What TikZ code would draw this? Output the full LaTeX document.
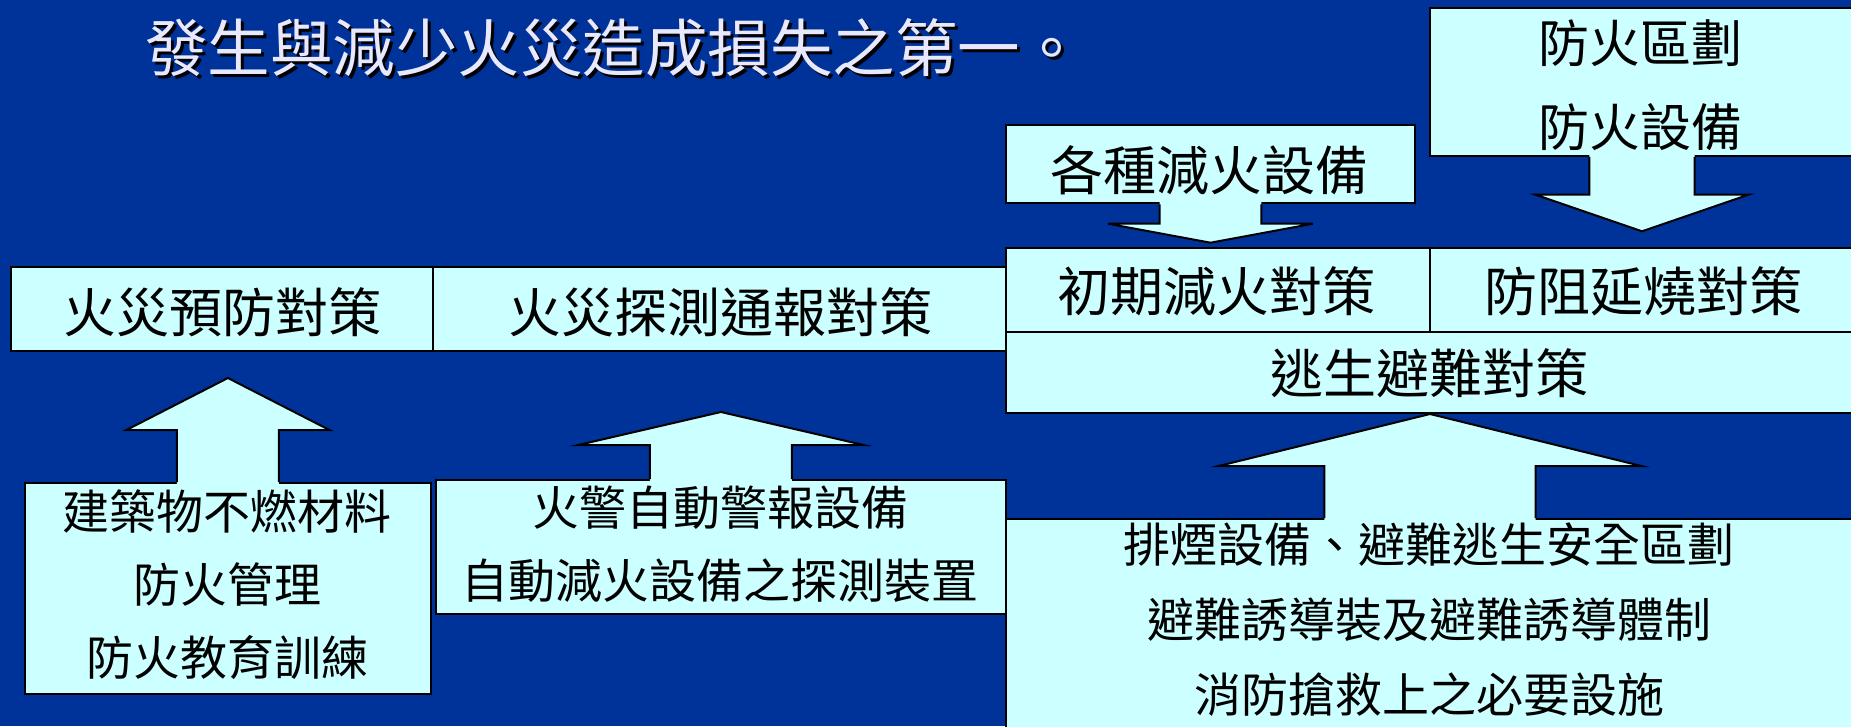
\documentclass[tikz,border=0pt]{standalone}
\usepackage{fontspec}
\newfontfamily\cjk{Noto Sans CJK TC}
\definecolor{bg}{RGB}{0,51,153}
\definecolor{boxc}{RGB}{204,255,255}
\definecolor{titc}{RGB}{232,232,255}
\begin{document}
\begin{tikzpicture}[x=1pt,y=-1pt,
  box/.style={draw=black,line width=2pt,fill=boxc,inner sep=0pt,anchor=north west},
  hd/.style={font=\cjk\fontsize{53}{60}\selectfont,inner sep=0pt,text=black},
  hdb/.style={font=\cjk\fontsize{51}{84}\selectfont,inner sep=0pt,align=center,text=black},
  bd/.style={font=\cjk\fontsize{47}{73}\selectfont,inner sep=0pt,align=center,text=black},
  ttl/.style={font=\cjk\fontsize{62.5}{70}\selectfont,inner sep=0pt},
  arrfill/.style={fill=boxc,draw=none},
  arrline/.style={draw=black,line width=2pt,line join=miter}]
\useasboundingbox (0,0) rectangle (1851,726);
\fill[bg] (0,0) rectangle (1851,726);
\clip (0,0) rectangle (1851,726);

% boxes
\node[box,minimum width=421.9pt,minimum height=84pt] (b1) at (9.7,266) {};
\node[box,minimum width=573.4pt,minimum height=84pt] (b2) at (431.6,266) {};
\node[box,minimum width=424pt,minimum height=84.3pt] (b3) at (1005,246.7) {};
\node[box,minimum width=424pt,minimum height=84.3pt] (b4) at (1429,246.7) {};
\node[box,minimum width=848pt,minimum height=80.7pt] (b5) at (1005,331) {};
\node[box,minimum width=409pt,minimum height=78.3pt] (b6) at (1005,124) {};
\node[box,minimum width=424pt,minimum height=148.3pt] (b7) at (1429,6.7) {};
\node[box,minimum width=406.2pt,minimum height=211pt] (b8) at (23.8,482) {};
\node[box,minimum width=570.2pt,minimum height=134.3pt] (b9) at (434.8,479) {};
\node[box,minimum width=848pt,minimum height=240pt] (b10) at (1005,518) {};

% block arrows (up)
\begin{scope}[shift={(b8.north)}]
  \fill[arrfill] (-51,4) -- (-51,-52) -- (-101.5,-52) -- (0,-104) -- (101.5,-52) -- (51,-52) -- (51,4) -- cycle;
  \draw[arrline] (-51,0) -- (-51,-52) -- (-101.5,-52) -- (0,-104) -- (101.5,-52) -- (51,-52) -- (51,0);
\end{scope}
\begin{scope}[shift={(b9.north)}]
  \fill[arrfill] (-71,4) -- (-71,-34) -- (-142.6,-34) -- (0,-67) -- (142.6,-34) -- (71,-34) -- (71,4) -- cycle;
  \draw[arrline] (-71,0) -- (-71,-34) -- (-142.6,-34) -- (0,-67) -- (142.6,-34) -- (71,-34) -- (71,0);
\end{scope}
\begin{scope}[shift={(b10.north)}]
  \fill[arrfill] (-105.6,4) -- (-105.6,-52) -- (-211.3,-52) -- (0,-104) -- (211.3,-52) -- (105.6,-52) -- (105.6,4) -- cycle;
  \draw[arrline] (-105.6,0) -- (-105.6,-52) -- (-211.3,-52) -- (0,-104) -- (211.3,-52) -- (105.6,-52) -- (105.6,0);
\end{scope}
% block arrows (down)
\begin{scope}[shift={(b6.south)}]
  \fill[arrfill] (-50.8,-4) -- (-50.8,19.4) -- (-102.5,19.4) -- (0,38.4) -- (102.5,19.4) -- (50.8,19.4) -- (50.8,-4) -- cycle;
  \draw[arrline] (-50.8,0) -- (-50.8,19.4) -- (-102.5,19.4) -- (0,38.4) -- (102.5,19.4) -- (50.8,19.4) -- (50.8,0);
\end{scope}
\begin{scope}[shift={(b7.south)}]
  \fill[arrfill] (-52.7,-4) -- (-52.7,37.7) -- (-106.5,37.7) -- (0,74.3) -- (106.5,37.7) -- (52.7,37.7) -- (52.7,-4) -- cycle;
  \draw[arrline] (-52.7,0) -- (-52.7,37.7) -- (-106.5,37.7) -- (0,74.3) -- (106.5,37.7) -- (52.7,37.7) -- (52.7,0);
\end{scope}

% texts
\node[hd] (t1) at (222,312) {火災預防對策};
\node[hd] (t2) at (720,312) {火災探測通報對策};
\node[hd] (t3) at (1216.5,291.7) {初期減火對策};
\node[hd] (t4) at (1643.5,291.7) {防阻延燒對策};
\node[hd] (t5) at (1429.5,373) {逃生避難對策};
\node[hd] (t6) at (1209.5,170) {各種減火設備};
\node[hdb] (t7) at (1640.5,85) {防火區劃\\防火設備};
\node[bd] (t8) at (227,585) {建築物不燃材料\\防火管理\\防火教育訓練};
\node[bd] (t9) at (720,544) {火警自動警報設備\\自動減火設備之探測裝置};
\node[bd,font=\cjk\fontsize{47}{75}\selectfont] (t10) at (1429,620) {排煙設備、避難逃生安全區劃\\避難誘導裝及避難誘導體制\\消防搶救上之必要設施};

% title with shadow
\node[ttl,text=black] (tshadow) at (617,51) {發生與減少火災造成損失之第一。};
\node[ttl,text=titc] (title) at (614,48) {發生與減少火災造成損失之第一。};
\end{tikzpicture}
\end{document}
